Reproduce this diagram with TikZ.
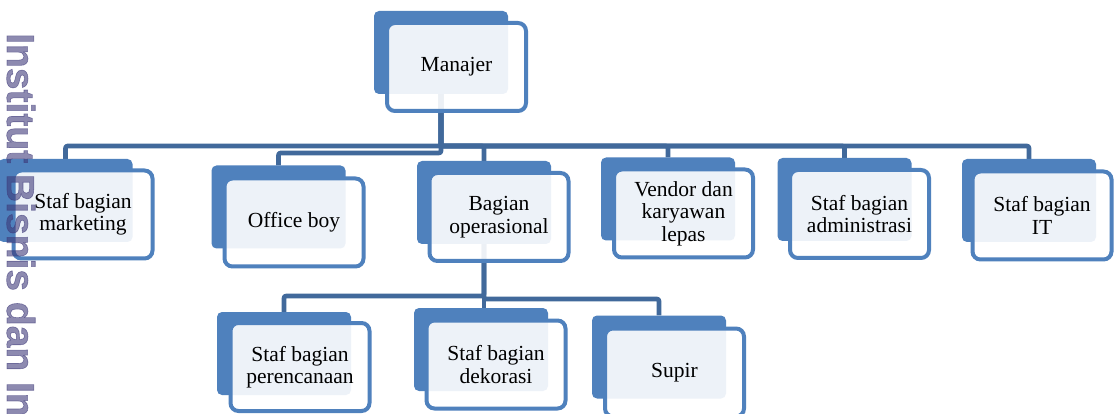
\documentclass[tikz,border=0pt]{standalone}
\usepackage{fontspec}
\setmainfont{Liberation Serif}
\newfontfamily\wmfont{Liberation Sans Bold}[FakeBold=1.5]
\definecolor{accent}{HTML}{4F81BD}
\definecolor{conn}{HTML}{41699B}
\definecolor{wm}{RGB}{60,55,120}
\pgfdeclarelayer{bg}
\pgfsetlayers{bg,main}
\begin{document}
\begin{tikzpicture}[x=1pt,y=-1pt,
  backbox/.style={fill=accent, rounded corners=5pt, minimum width=134pt, minimum height=83pt, inner sep=0pt},
  frontbox/.style={draw=accent, line width=4pt, fill=white, fill opacity=0.9, text opacity=1, rounded corners=8pt,
    minimum width=139pt, minimum height=88pt, align=center, inner sep=0pt,
    font=\fontsize{21.5}{22.5}\selectfont},
  link/.style={draw=conn, line width=4.6pt, rounded corners=2pt, line join=round}]
\clip (0,0) rectangle (1114,414);
% coordinates of the buses
\coordinate (busT) at (0,146);
\coordinate (busO) at (0,153);
\coordinate (busL) at (0,296);
\coordinate (busR) at (0,299);
% boxes
\node[backbox] (mgrb) at (441,52.5) {};
\node[frontbox] (mgr) at (456.5,67) {Manajer};
\node[backbox] (mktb) at (65.5,200.5) {};
\node[frontbox] (mkt) at (83,214.5) {Staf bagian\\marketing};
\node[backbox] (offb) at (278.5,207) {};
\node[frontbox] (off) at (294,222.5) {Office boy};
\node[backbox] (opb) at (484,202.5) {};
\node[frontbox] (op) at (499,217) {Bagian\\operasional};
\node[backbox] (venb) at (668,199) {};
\node[frontbox] (ven) at (683.5,213.5) {Vendor dan\\karyawan\\lepas};
\node[backbox] (admb) at (844.5,199.5) {};
\node[frontbox] (adm) at (859.5,214) {Staf bagian\\administrasi};
\node[backbox] (itb) at (1029,200.5) {};
\node[frontbox] (it) at (1042,215.5) {Staf bagian\\IT};
\node[backbox] (perb) at (284,353.5) {};
\node[frontbox] (per) at (300,367) {Staf bagian\\perencanaan};
\node[backbox] (dekb) at (481,349.5) {};
\node[frontbox] (dek) at (496,364.5) {Staf bagian\\dekorasi};
\node[backbox] (supb) at (659,357) {};
\node[frontbox] (sup) at (674.5,372.5) {Supir};
% connectors
\begin{pgfonlayer}{bg}
\fill[white] (0,0) rectangle (1114,414);
\draw[link] (mgrb.center) -- (mgrb.center |- busO) -| (offb.north);
\draw[link] (mgrb.center) -- (mgrb.center |- busT) -| (mktb.north);
\draw[link] (mgrb.center) -- (mgrb.center |- busT) -| (opb.north);
\draw[link] (mgrb.center) -- (mgrb.center |- busT) -| (venb.north);
\draw[link] (mgrb.center) -- (mgrb.center |- busT) -| (admb.north);
\draw[link] (mgrb.center) -- (mgrb.center |- busT) -| (itb.north);
\draw[link] (opb.center) -- (opb.center |- busL) -| (perb.north);
\draw[link] (opb.center) -- (opb.center |- busR) -| (supb.north);
\draw[link] (opb.center) -- (opb.center |- dekb.north);
\end{pgfonlayer}
% watermark
\node[rotate=-90, anchor=base west, inner sep=0pt, text=wm, opacity=0.58,
  font=\wmfont\fontsize{39}{39}\selectfont] (wmark) at (7,33) {Institut Bisnis dan Informatika};
\end{tikzpicture}
\end{document}
